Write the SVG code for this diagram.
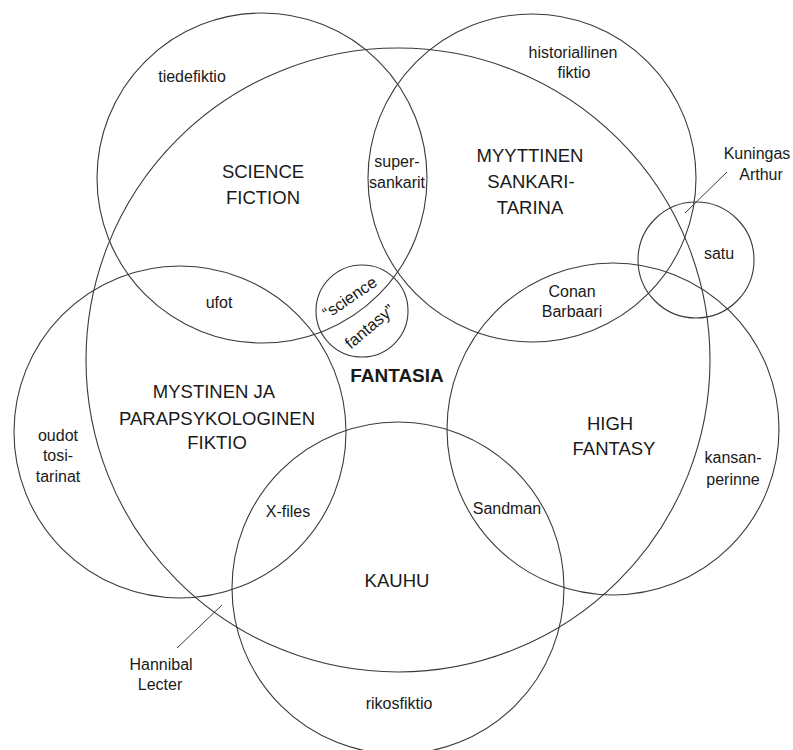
<svg xmlns="http://www.w3.org/2000/svg" width="793" height="750" viewBox="0 0 793 750">
<style>
.c{fill:none;stroke:#3a3a3a;stroke-width:1.1}
.l{fill:none;stroke:#3a3a3a;stroke-width:1}
text{font-family:"Liberation Sans",Arial,sans-serif;fill:#1a1a1a;text-anchor:middle}
.s{font-size:16px}
.r{font-size:16.5px}
.b{font-size:18.5px}
.bb{font-size:19px;font-weight:bold}
</style>
<rect width="793" height="750" fill="#ffffff"/>
<g id="fantasia">
<circle class="c" cx="398" cy="360" r="312"/>
<text class="bb" x="397" y="382">FANTASIA</text>
</g>
<g id="science-fiction">
<circle class="c" cx="262" cy="178" r="165"/>
<text class="s" x="192" y="82">tiedefiktio</text>
<text class="b" x="263" y="178">SCIENCE</text>
<text class="b" x="263" y="204">FICTION</text>
<text class="s" x="219" y="308">ufot</text>
</g>
<g id="myyttinen">
<circle class="c" cx="532" cy="178" r="164"/>
<text class="s" x="573" y="58">historiallinen</text>
<text class="s" x="574" y="78">fiktio</text>
<text class="b" x="530" y="162">MYYTTINEN</text>
<text class="b" x="531" y="188">SANKARI-</text>
<text class="b" x="530" y="214">TARINA</text>
<text class="s" x="397" y="167">super-</text>
<text class="s" x="397" y="188">sankarit</text>
<text class="s" x="572" y="297">Conan</text>
<text class="s" x="572" y="317">Barbaari</text>
</g>
<g id="satu">
<circle class="c" cx="696" cy="260" r="58"/>
<text class="s" x="719" y="259">satu</text>
<text class="s" x="757" y="159">Kuningas</text>
<text class="s" x="761" y="180">Arthur</text>
</g>
<g id="science-fantasy">
<circle class="c" cx="362" cy="311" r="46"/>
<text class="r" transform="translate(350,298) rotate(-34)" y="5">“science</text>
<text class="r" transform="translate(370,327) rotate(-40)" y="5">fantasy”</text>
</g>
<g id="mystinen">
<circle class="c" cx="180" cy="432" r="166"/>
<text class="b" x="214" y="398">MYSTINEN JA</text>
<text class="b" x="217" y="425">PARAPSYKOLOGINEN</text>
<text class="b" x="217" y="449">FIKTIO</text>
<text class="s" x="58" y="441">oudot</text>
<text class="s" x="58" y="461">tosi-</text>
<text class="s" x="58" y="482">tarinat</text>
<text class="s" x="288" y="517">X-files</text>
<text class="s" x="161" y="670">Hannibal</text>
<text class="s" x="160" y="690">Lecter</text>
</g>
<g id="kauhu">
<circle class="c" cx="398" cy="588" r="166"/>
<text class="b" x="397" y="587">KAUHU</text>
<text class="s" x="399" y="709">rikosfiktio</text>
<text class="s" x="507" y="514">Sandman</text>
</g>
<g id="high-fantasy">
<circle class="c" cx="613" cy="429" r="166"/>
<text class="b" x="610" y="430">HIGH</text>
<text class="b" x="614" y="455">FANTASY</text>
<text class="s" x="733" y="463">kansan-</text>
<text class="s" x="733" y="485">perinne</text>
</g>
<g id="connectors">
<line class="l" x1="685" y1="213" x2="727" y2="172"/>
<line class="l" x1="222" y1="605" x2="177" y2="648"/>
</g>
</svg>
